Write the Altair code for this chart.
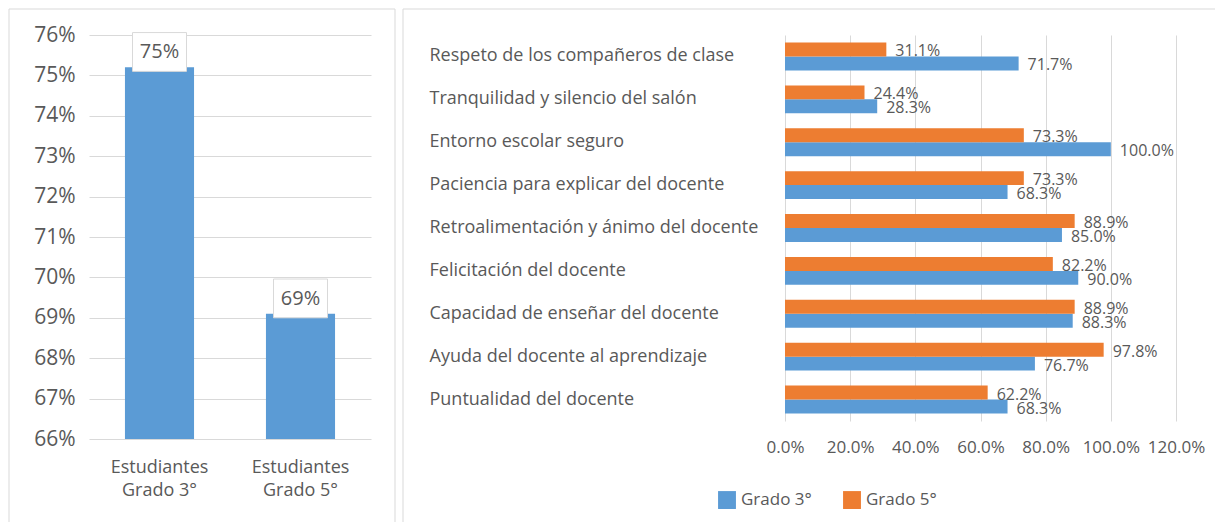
import altair as alt
import pandas as pd

# ---------------- data ----------------
left_groups = ["Estudiantes Grado 3°", "Estudiantes Grado 5°"]
left_values = [0.752, 0.691]
left_ticks = [0.66, 0.67, 0.68, 0.69, 0.70, 0.71, 0.72, 0.73, 0.74, 0.75, 0.76]

categories = [
    "Respeto de los compañeros de clase",
    "Tranquilidad y silencio del salón",
    "Entorno escolar seguro",
    "Paciencia para explicar del docente",
    "Retroalimentación y ánimo del docente",
    "Felicitación del docente",
    "Capacidad de enseñar del docente",
    "Ayuda del docente al aprendizaje",
    "Puntualidad del docente",
]
series = ["Grado 3°", "Grado 5°"]
grado3 = [0.717, 0.283, 1.000, 0.683, 0.850, 0.900, 0.883, 0.767, 0.683]
grado5 = [0.311, 0.244, 0.733, 0.733, 0.889, 0.822, 0.889, 0.978, 0.622]
right_ticks = [0.0, 0.2, 0.4, 0.6, 0.8, 1.0, 1.2]

BLUE = "#5B9BD5"
ORANGE = "#ED7D31"
GRAY = "#595959"
GRID = "#d9d9d9"
FRAME = "#d9d9d9"
FONT = "Open Sans"

left_df = pd.DataFrame({"grupo": left_groups, "valor": left_values})
right_df = pd.DataFrame(
    {
        "categoria": categories * 2,
        "serie": [series[0]] * len(categories) + [series[1]] * len(categories),
        "valor": grado3 + grado5,
    }
)
one = pd.DataFrame({"k": [0]})


def rule(x, y, x2=None, y2=None):
    enc = {"x": alt.value(x), "y": alt.value(y)}
    if x2 is not None:
        enc["x2"] = alt.value(x2)
    if y2 is not None:
        enc["y2"] = alt.value(y2)
    return alt.Chart(one).mark_rule(color=FRAME, strokeWidth=1).encode(**enc)


# ---------------- left panel ----------------
LW, LH = 282, 404
x_left_axis = alt.Axis(
    title=None,
    labelAngle=0,
    labelExpr="[slice(datum.label, 0, 11), slice(datum.label, 12)]",
    labelFontSize=18,
    labelLineHeight=23,
    labelPadding=19,
    labelColor=GRAY,
    ticks=False,
    domain=False,
)
x_left_scale = alt.Scale(paddingInner=0.51, paddingOuter=0.255)
y_left_axis = alt.Axis(
    title=None,
    values=left_ticks,
    format=".0%",
    labelFontSize=21,
    labelPadding=14,
    labelColor=GRAY,
    ticks=False,
    domain=False,
    grid=True,
    gridColor=GRID,
)
y_left_scale = alt.Scale(domain=[0.66, 0.76], zero=False, nice=False)

lbase = alt.Chart(left_df)
lx = alt.X("grupo:N", sort=left_groups, scale=x_left_scale, axis=x_left_axis)

l_bars = lbase.mark_bar(color=BLUE).encode(
    x=lx,
    y=alt.Y("valor:Q", scale=y_left_scale, axis=y_left_axis),
    y2=alt.datum(0.66),
)
l_box = (
    lbase.transform_calculate(lo="datum.valor - 0.001", hi="datum.valor + 0.0086")
    .mark_bar(size=54, fill="white", stroke=FRAME, strokeWidth=1)
    .encode(
        x=lx,
        y=alt.Y("lo:Q", scale=y_left_scale, axis=y_left_axis),
        y2="hi:Q",
    )
)
l_text = (
    lbase.transform_calculate(ty="datum.valor + 0.0037")
    .mark_text(fontSize=20, color=GRAY, baseline="middle")
    .encode(
        x=lx,
        y=alt.Y("ty:Q", scale=y_left_scale, axis=y_left_axis),
        text=alt.Text("valor:Q", format=".0%"),
    )
)

left = alt.layer(
    rule(-80, -26, y2=487),
    rule(306, -26, y2=487),
    rule(-80, -26, x2=306),
    l_bars,
    l_box,
    l_text,
).properties(width=LW, height=LH)

# ---------------- right panel ----------------
RW, RH = 391, 386
rbase = alt.Chart(right_df)
ry = alt.Y(
    "categoria:N",
    sort=categories,
    scale=alt.Scale(paddingInner=0.35, paddingOuter=0.175),
    axis=alt.Axis(
        title=None,
        labelAlign="left",
        labelPadding=356,
        labelLimit=400,
        labelFontSize=18,
        labelColor=GRAY,
        ticks=False,
        domain=False,
        grid=False,
    ),
)
ryo = alt.YOffset("serie:N", scale=alt.Scale(domain=["Grado 5°", "Grado 3°"], paddingInner=0))
rx = alt.X(
    "valor:Q",
    scale=alt.Scale(domain=[0, 1.2], nice=False),
    axis=alt.Axis(
        title=None,
        values=right_ticks,
        format=".1%",
        labelFontSize=17,
        labelPadding=18,
        labelColor=GRAY,
        labelOverlap=False,
        labelFlush=False,
        ticks=False,
        domain=False,
        grid=True,
        gridColor=GRID,
    ),
)
rcolor = alt.Color(
    "serie:N",
    scale=alt.Scale(domain=series, range=[BLUE, ORANGE]),
    legend=alt.Legend(
        title=None,
        orient="none",
        legendX=629,
        legendY=456,
        direction="horizontal",
        symbolType="square",
        symbolSize=320,
        symbolStrokeWidth=0,
        labelFontSize=17,
        labelColor=GRAY,
        labelOffset=5,
        columnPadding=31,
    ),
)

r_bars = rbase.mark_bar().encode(x=rx, y=ry, yOffset=ryo, color=rcolor)
r_text = rbase.mark_text(
    align="left", baseline="middle", dx=9, dy=2, fontSize=16, color=GRAY
).encode(x=rx, y=ry, yOffset=ryo, text=alt.Text("valor:Q", format=".1%"))

right = alt.layer(
    rule(-382, -26, y2=487),
    rule(-382, -26, x2=430),
    r_bars,
    r_text,
).properties(width=RW, height=RH)

chart = (
    alt.hconcat(left, right, spacing=6)
    .properties(padding={"left": 0, "top": 0, "right": 0, "bottom": 0})
    .configure(font=FONT)
    .configure_view(stroke="transparent")
)

chart.save("out.html", embed_options={"renderer": "svg", "actions": False})
